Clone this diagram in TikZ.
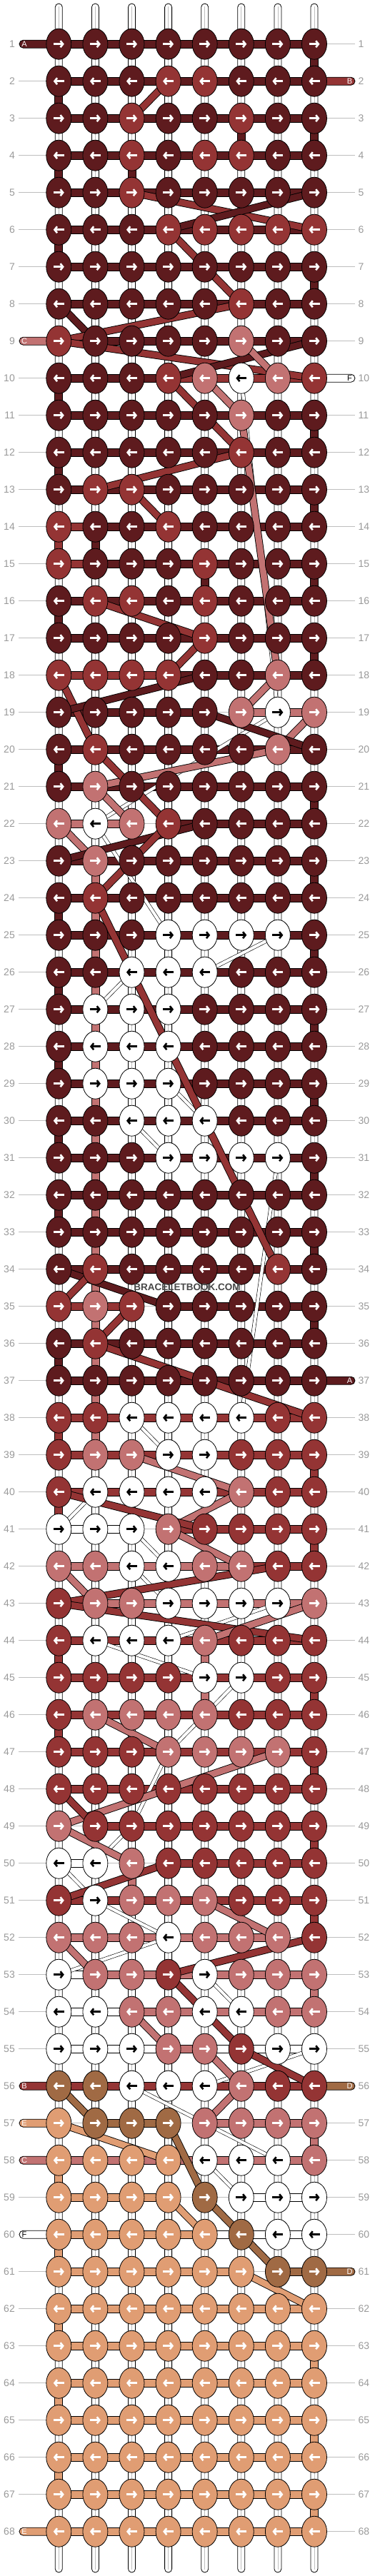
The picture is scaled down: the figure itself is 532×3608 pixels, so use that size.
\documentclass[tikz,border=0pt]{standalone}
\usepackage{fontspec}
\setmainfont{Liberation Sans}
\usetikzlibrary{arrows.meta,shapes.geometric}
\definecolor{cA}{HTML}{5E1B1E}
\definecolor{cB}{HTML}{943434}
\definecolor{cC}{HTML}{C27272}
\definecolor{cD}{HTML}{A06A44}
\definecolor{cE}{HTML}{E09D73}
\definecolor{cF}{HTML}{FFFFFF}
\colorlet{aA}{white}\colorlet{aB}{white}\colorlet{aC}{white}
\colorlet{aD}{white}\colorlet{aE}{white}\colorlet{aF}{black}
\definecolor{lbl}{HTML}{9A9A9A}
\definecolor{lln}{HTML}{BEBEBE}
\tikzset{
  knot/.style={ellipse, draw=black, line width=0.8pt, minimum width=35pt, minimum height=43pt, inner sep=0pt},
  arr/.style={line width=2.6pt, -{Straight Barb[length=3.6pt,width=9pt]}},
  seg/.style={draw=black, line width=0.8pt},
  lblline/.style={draw=lln, line width=0.9pt},
  rowlbl/.style={text=lbl, font=\fontsize{14}{14}\selectfont, inner sep=0pt},
  stublbl/.style={font=\fontsize{11}{11}\selectfont, inner sep=0pt},
  douter/.style={line width=10.6pt, draw=black},
  dinner/.style={line width=8.8pt},
  wouter/.style={line width=5.4pt, draw=black},
  winner/.style={line width=4.2pt, draw=white},
}
\def\rows{%
{A,A,A,A,A,A,A,A},{A,A,A,B,B,A,A,A},{A,A,B,A,A,B,A,A},{A,A,B,A,B,B,A,A},{A,A,B,A,A,A,A,A},%5
{A,A,A,B,B,B,B,B},{A,A,A,A,A,A,A,A},{A,A,A,A,A,B,A,A},{B,A,A,A,A,C,A,A},{A,A,A,B,C,F,C,B},%10
{A,A,A,A,A,C,A,A},{A,A,A,A,A,B,A,A},{A,B,B,A,A,A,A,A},{B,A,A,B,A,A,A,A},{B,A,A,A,B,A,A,A},%15
{A,B,B,A,B,A,A,A},{A,A,A,A,B,A,A,A},{B,B,B,B,A,A,C,A},{A,A,A,A,A,C,F,C},{A,B,A,A,A,A,C,A},%20
{A,C,A,A,A,A,A,A},{C,F,C,B,A,A,A,A},{A,C,A,A,A,A,A,A},{A,B,A,A,A,A,A,A},{A,A,A,F,F,F,F,A},%25
{A,A,F,F,F,A,A,A},{A,F,F,F,A,A,A,A},{A,F,F,F,A,A,A,A},{A,F,F,F,A,A,A,A},{A,A,F,F,F,A,A,A},%30
{A,A,A,F,F,F,F,A},{A,A,A,A,A,A,A,A},{A,A,A,A,A,A,A,A},{A,B,A,A,A,A,B,A},{B,C,B,A,A,A,A,A},%35
{A,B,A,A,A,A,A,A},{A,A,A,A,A,A,A,A},{B,B,F,F,F,F,B,B},{B,C,C,F,F,B,B,B},{B,F,F,F,F,C,B,B},%40
{F,F,F,C,B,B,B,B},{C,C,F,F,C,C,B,B},{B,C,C,F,F,F,F,C},{B,F,F,F,C,B,B,B},{B,B,B,B,F,F,B,B},%45
{B,C,C,C,C,B,B,B},{B,B,B,C,C,C,C,B},{B,B,B,B,B,B,B,B},{C,B,B,B,B,B,B,B},{F,F,C,B,B,B,B,B},%50
{B,F,C,C,C,B,B,B},{C,C,C,F,C,C,C,B},{F,C,C,B,F,C,C,C},{F,F,C,C,F,F,C,C},{F,F,F,C,C,B,F,F},%55
{D,D,F,F,F,C,B,B},{E,D,D,D,C,C,C,C},{E,E,E,E,F,F,F,C},{E,E,E,E,D,F,F,F},{E,E,E,E,E,D,F,F},%60
{E,E,E,E,E,E,D,D},{E,E,E,E,E,E,E,E},{E,E,E,E,E,E,E,E},{E,E,E,E,E,E,E,E},{E,E,E,E,E,E,E,E},%65
{E,E,E,E,E,E,E,E},{E,E,E,E,E,E,E,E},{E,E,E,E,E,E,E,E}}
\def\bars{%
{A,A,A,A,A,A,A},{A,A,A,A,A,A,A},{A,A,A,A,A,A,A},{A,A,A,A,A,A,A},{A,A,A,A,A,A,A},%5
{A,A,A,A,A,A,A},{A,A,A,A,A,A,A},{A,A,A,A,A,A,A},{B,A,A,A,A,A,A},{A,A,A,B,B,B,B},%10
{A,A,A,A,A,A,A},{A,A,A,A,A,A,A},{A,A,A,A,A,A,A},{B,A,A,A,A,A,A},{B,A,A,A,A,A,A},%15
{A,A,A,A,A,A,A},{A,A,A,A,A,A,A},{B,B,B,A,A,A,A},{A,A,A,A,0,C,C},{A,A,A,A,A,A,A},%20
{A,A,A,A,A,A,A},{C,C,0,A,A,A,A},{A,A,A,A,A,A,A},{A,A,A,A,A,A,A},{A,A,A,A,A,A,A},%25
{A,A,A,A,A,A,A},{A,A,A,A,A,A,A},{A,A,A,A,A,A,A},{A,A,A,A,A,A,A},{A,A,A,A,A,A,A},%30
{A,A,A,A,A,A,A},{A,A,A,A,A,A,A},{A,A,A,A,A,A,A},{A,A,A,A,A,A,A},{B,B,0,A,A,A,A},%35
{A,A,A,A,A,A,A},{A,A,A,A,A,A,A},{B,B,B,B,B,B,B},{B,B,B,B,B,B,B},{B,B,B,B,B,B,B},%40
{F,F,0,B,B,B,B},{C,C,C,C,C,B,B},{B,C,C,C,C,C,C},{B,B,B,B,B,B,B},{B,B,B,B,B,B,B},%45
{B,B,B,B,B,B,B},{B,B,B,B,B,B,B},{B,B,B,B,B,B,B},{0,B,B,B,B,B,B},{F,0,0,B,B,B,B},%50
{B,B,B,B,B,B,B},{C,C,C,C,C,C,0},{F,C,C,C,C,C,C},{F,F,C,C,C,C,C},{F,F,F,C,F,F,F},%55
{B,B,B,B,B,B,B},{0,D,D,0,C,C,C},{C,C,C,C,C,C,C},{E,E,E,0,0,F,F},{E,E,E,E,F,F,F},%60
{E,E,E,E,E,0,D},{E,E,E,E,E,E,E},{E,E,E,E,E,E,E},{E,E,E,E,E,E,E},{E,E,E,E,E,E,E},%65
{E,E,E,E,E,E,E},{E,E,E,E,E,E,E},{E,E,E,E,E,E,E}}
\begin{document}
\begin{tikzpicture}[x=1pt,y=-1pt]
\fill[white] (0,0) rectangle (532,3608);
\useasboundingbox (0,0) rectangle (532,3608);
% coordinates of the knots
\foreach \i in {1,...,68}{
  \foreach \j in {1,...,8}{
    \coordinate (n-\i-\j) at ({82.3+(\j-1)*51.1},{61.7+(\i-1)*52});
  }
}
% vertical strings
\foreach \j in {1,...,8}{
  \pgfmathsetmacro\xx{82.3+(\j-1)*51.1}
  \draw[seg, fill=white, rounded corners=5pt] ({\xx-5},5) rectangle ({\xx+5},3603);
  \draw[lln, line width=0.8pt] (\xx,9) -- (\xx,3599);
}
% row labels
\foreach \i in {1,...,68}{
  \pgfmathsetmacro\yy{61.7+(\i-1)*52}
  \draw[lblline] (26,\yy) -- (65,\yy);
  \draw[lblline] (457,\yy) -- (497,\yy);
  \node[rowlbl, anchor=east] at (21,\yy) {\i};
  \node[rowlbl, anchor=west] at (501.5,\yy) {\i};
}
% coloured vertical segments
\foreach \r/\c/\cc in {1/8/A,3/8/A,7/8/A,11/8/A,13/8/A,15/8/A,17/8/A,21/8/A,23/8/A,25/8/A,27/8/A,29/8/A,31/8/A,33/8/A,35/8/A,
  39/8/B,41/8/B,45/8/B,47/8/B,49/8/B,51/8/B,53/8/C,57/8/C,63/8/E,65/8/E,67/8/E,
  2/1/A,4/1/A,6/1/A,10/1/A,12/1/A,16/1/A,20/1/A,24/1/A,26/1/A,28/1/A,30/1/A,32/1/A,36/1/A,
  14/1/B,38/1/B,40/1/B,44/1/B,46/1/B,58/1/E,60/1/E,62/1/E,64/1/E,66/1/E,
  3/6/A,4/3/A,14/2/A,15/5/A,23/2/C,24/2/C,25/2/C,26/2/C,27/2/C,28/2/C,29/2/C,30/2/C,31/2/C,32/2/C,
  33/2/C,34/2/C,35/2/C,36/2/C,37/2/C,38/2/C,44/5/C,45/5/C,50/3/C}{
  \pgfmathtruncatemacro\rr{\r+1}
  \draw[seg, fill=c\cc] ([xshift=-5.5pt]n-\r-\c) rectangle ([xshift=5.5pt]n-\rr-\c);
}
% horizontal bars
\foreach \b [count=\i] in \bars {
  \foreach \c [count=\j] in \b {
    \pgfmathtruncatemacro\jj{\j+1}
    \if\c0
      \draw[lblline] (n-\i-\j) -- (n-\i-\jj);
    \else
      \draw[seg, fill=c\c] ([yshift=-5.5pt]n-\i-\j) rectangle ([yshift=5.5pt]n-\i-\jj);
    \fi
  }
}
% white strings moving diagonally
\foreach \ra/\ca/\rb/\cb in {10/6/19/7,19/7/22/2,22/2/25/4,25/7/26/5,26/3/27/2,29/4/30/5,30/3/31/4,
  31/7/38/6,38/3/39/4,40/2/41/1,41/3/42/4,42/3/43/4,43/7/44/4,44/2/45/5,45/6/46/5,46/5/47/4,
  47/4/49/3,49/3/50/2,50/1/51/2,51/2/52/4,52/4/53/1,53/5/54/6,55/8/56/5,56/3/57/5,57/5/58/7,58/5/59/6}{
  \draw[wouter] (n-\ra-\ca) -- (n-\rb-\cb);
  \draw[winner] (n-\ra-\ca) -- (n-\rb-\cb);
}
% diagonal threads
\foreach \ra/\ca/\rb/\cb/\cc in {2/4/3/3/B,5/3/6/8/B,5/8/6/4/A,6/4/8/6/B,8/1/9/2/A,8/6/9/1/B,9/1/10/8/B,
  9/8/10/4/A,9/6/10/7/C,10/4/12/6/B,10/5/11/6/C,11/6/18/7/C,12/6/13/2/B,13/3/14/4/B,16/2/17/5/B,
  17/5/18/4/B,18/1/20/2/B,18/5/19/1/A,18/7/19/6/C,19/8/20/7/C,19/5/20/8/A,20/7/21/2/C,20/2/22/4/B,
  21/2/22/3/C,22/1/23/2/C,22/5/23/1/A,22/4/24/2/B,24/2/34/7/B,34/1/35/4/A,34/2/35/1/B,35/3/36/2/B,
  36/2/38/8/B,39/3/40/6/C,40/6/41/4/C,40/1/41/5/B,41/4/42/6/C,42/1/43/2/C,42/7/43/1/B,43/1/44/8/B,
  43/8/44/5/C,46/2/47/4/C,47/7/49/1/C,48/1/49/2/B,49/1/50/3/C,50/4/51/1/B,51/5/52/7/C,52/8/53/4/B,
  52/1/53/2/C,53/4/55/6/B,54/3/55/4/C,55/6/56/8/B,55/5/56/6/C,56/6/57/5/C,56/1/57/2/D,57/1/58/4/E,
  57/4/59/5/D,59/5/61/7/D,59/4/60/5/E,61/6/62/8/E}{
  \draw[douter] (n-\ra-\ca) -- (n-\rb-\cb);
  \draw[dinner, draw=c\cc] (n-\ra-\ca) -- (n-\rb-\cb);
}
% thread ends (left)
\foreach \r/\t/\cc in {1/A/A,9/C/C,56/B/B,57/E/E,58/C/C,60/F/F,68/E/E}{
  \pgfmathsetmacro\yy{61.7+(\r-1)*52}
  \draw[seg, fill=c\cc, rounded corners=5.5pt] (27,{\yy-5.5}) rectangle (84,{\yy+5.5});
  \node[stublbl, text=a\cc] at (34,\yy) {\t};
}
% thread ends (right)
\foreach \r/\t/\cc in {2/B/B,10/F/F,37/A/A,56/D/D,61/D/D}{
  \pgfmathsetmacro\yy{61.7+(\r-1)*52}
  \draw[seg, fill=c\cc, rounded corners=5.5pt] (438,{\yy-5.5}) rectangle (497,{\yy+5.5});
  \node[stublbl, text=a\cc] at (489.5,\yy) {\t};
}
% knots
\foreach \r [count=\i] in \rows {
  \foreach \c [count=\j] in \r {
    \node[knot, fill=c\c] (k-\i-\j) at (n-\i-\j) {};
    \ifodd\i
      \draw[arr, draw=a\c] ([xshift=-7.5pt]k-\i-\j.center) -- ([xshift=7.5pt]k-\i-\j.center);
    \else
      \draw[arr, draw=a\c] ([xshift=7.5pt]k-\i-\j.center) -- ([xshift=-7.5pt]k-\i-\j.center);
    \fi
  }
}
% watermark
\node[font=\bfseries\fontsize{13.5}{14}\selectfont, text=black!72, inner sep=0pt] (wm) at (262,1803) {BRACELETBOOK.COM};
\end{tikzpicture}
\end{document}
